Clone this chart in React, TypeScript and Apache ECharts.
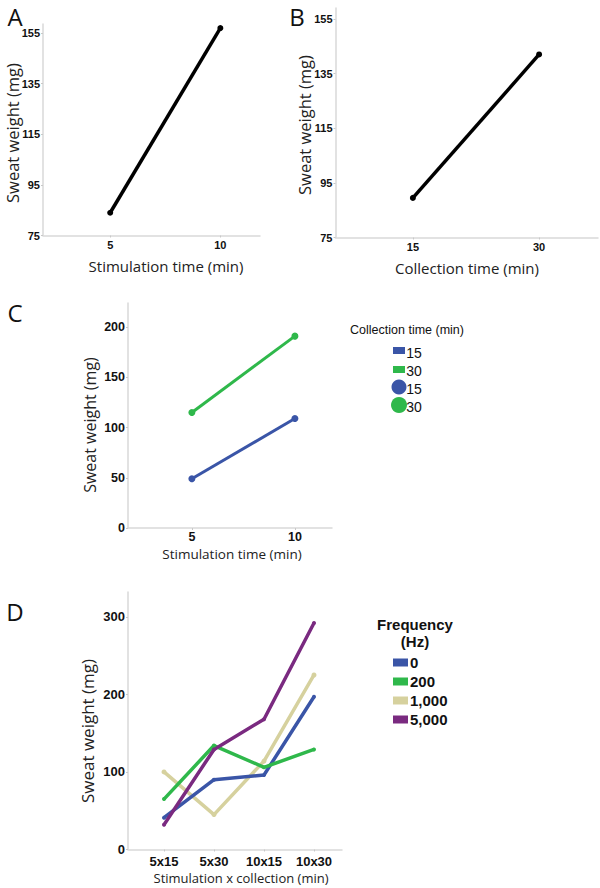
import React, { useEffect, useRef } from 'react';
import * as echarts from 'echarts';

// Panel A: stimulation time effect
const aStimTime = [5, 10];
const aWeight = [84, 157];
const aYTicks = [75, 95, 115, 135, 155];

// Panel B: collection time effect
const bCollTime = [15, 30];
const bWeight = [89.5, 142];
const bYTicks = [75, 95, 115, 135, 155];

// Panel C: interaction stimulation x collection
const cStimTime = [5, 10];
const cColl15 = [49, 109];
const cColl30 = [115, 191];
const cYTicks = [0, 50, 100, 150, 200];

// Panel D: frequency
const dCategories = ['5x15', '5x30', '10x15', '10x30'];
const dNames = ['0', '200', '1,000', '5,000'];
const dHz0 = [41, 90, 96, 197];
const dHz200 = [65, 134, 106, 129];
const dHz1000 = [100, 45, 114, 225];
const dHz5000 = [32, 129, 168, 292];
const dYTicks = [0, 100, 200, 300];

const BLUE = '#3a55a7';
const GREEN = '#2fb84b';
const TAN = '#d6d19e';
const PURPLE = '#7a2a80';
const AXIS = '#d9d9d9';
const TITLE_FONT = '"Open Sans", "DejaVu Sans", sans-serif';
const TICK_FONT = '"Liberation Sans", Arial, sans-serif';

function pairs(xs: number[], ys: number[]) {
  return xs.map((x, i) => [x, ys[i]]);
}

function axis(gridIndex: number, min: number, max: number, ticks: number[], fontSize: number, margin: number, formatter?: (v: number) => string) {
  return {
    type: 'value',
    gridIndex,
    min,
    max,
    splitLine: { show: false },
    axisLine: { show: true, onZero: false, lineStyle: { color: AXIS, width: 1.5 } },
    axisTick: { show: true, length: 2, customValues: ticks, lineStyle: { color: '#c8c8c8' } },
    axisLabel: {
      customValues: ticks,
      fontSize,
      fontWeight: 'bold',
      color: '#111',
      fontFamily: TICK_FONT,
      margin,
      formatter: formatter || ((v: number) => String(v)),
    },
  };
}

function txt(text: string, x: number, y: number, font: string, rotate = false, fill = '#222') {
  return {
    type: 'text',
    x,
    y,
    rotation: rotate ? Math.PI / 2 : 0,
    style: {
      text,
      font,
      fill,
      align: 'center',
      verticalAlign: 'middle',
      textAlign: 'center',
      textVerticalAlign: 'middle',
    },
  };
}

export default function App() {
  const ref = useRef<HTMLDivElement>(null);
  useEffect(() => {
    document.body.style.margin = '0';
    const chart = echarts.init(ref.current!, null, { renderer: 'svg' });
    const option: any = {
      animation: false,
      backgroundColor: '#ffffff',
      grid: [
        { left: 43, top: 24, width: 217, height: 211.5 },
        { left: 335.5, top: 8, width: 262.5, height: 229.5 },
        { left: 128, top: 303, width: 204, height: 225 },
        { left: 128, top: 592, width: 214, height: 257.5 },
      ],
      xAxis: [
        axis(0, 1.95, 11.8, aStimTime, 11, 4),
        axis(1, 5.8, 37, bCollTime, 11, 4),
        axis(2, 1.9, 11.8, cStimTime, 12.5, 2),
        axis(3, -0.72, 3.56, [0, 1, 2, 3], 13, 5, (v: number) => dCategories[Math.round(v)]),
      ],
      yAxis: [
        axis(0, 75, 158.6, aYTicks, 11, 3),
        axis(1, 75, 159, bYTicks, 11, 3),
        axis(2, 0, 224, cYTicks, 12.5, 3),
        axis(3, 0, 332, dYTicks, 13, 3),
      ],
      legend: {
        data: dNames,
        left: 388,
        top: 650,
        orient: 'vertical',
        icon: 'rect',
        itemWidth: 15,
        itemHeight: 8,
        itemGap: 4,
        selectedMode: false,
        textStyle: { fontSize: 15, fontWeight: 'bold', color: '#111', fontFamily: TICK_FONT, lineHeight: 15, padding: [0, 0, 0, -3] },
      },
      series: [
        {
          type: 'line', xAxisIndex: 0, yAxisIndex: 0, data: pairs(aStimTime, aWeight),
          lineStyle: { color: '#000', width: 3.5 }, itemStyle: { color: '#000' }, symbol: 'circle', symbolSize: 6,
        },
        {
          type: 'line', xAxisIndex: 1, yAxisIndex: 1, data: pairs(bCollTime, bWeight),
          lineStyle: { color: '#000', width: 3.5 }, itemStyle: { color: '#000' }, symbol: 'circle', symbolSize: 6,
        },
        {
          type: 'line', name: '15 min', xAxisIndex: 2, yAxisIndex: 2, data: pairs(cStimTime, cColl15),
          lineStyle: { color: BLUE, width: 3 }, itemStyle: { color: BLUE }, symbol: 'circle', symbolSize: 7,
        },
        {
          type: 'line', name: '30 min', xAxisIndex: 2, yAxisIndex: 2, data: pairs(cStimTime, cColl30),
          lineStyle: { color: GREEN, width: 3 }, itemStyle: { color: GREEN }, symbol: 'circle', symbolSize: 7,
        },
        {
          type: 'line', name: dNames[2], xAxisIndex: 3, yAxisIndex: 3, data: pairs([0, 1, 2, 3], dHz1000),
          lineStyle: { color: TAN, width: 3.5 }, itemStyle: { color: TAN }, symbol: 'circle', symbolSize: 5,
        },
        {
          type: 'line', name: dNames[0], xAxisIndex: 3, yAxisIndex: 3, data: pairs([0, 1, 2, 3], dHz0),
          lineStyle: { color: BLUE, width: 3.5 }, itemStyle: { color: BLUE }, symbol: 'circle', symbolSize: 4,
        },
        {
          type: 'line', name: dNames[1], xAxisIndex: 3, yAxisIndex: 3, data: pairs([0, 1, 2, 3], dHz200),
          lineStyle: { color: GREEN, width: 3.5 }, itemStyle: { color: GREEN }, symbol: 'circle', symbolSize: 4,
        },
        {
          type: 'line', name: dNames[3], xAxisIndex: 3, yAxisIndex: 3, data: pairs([0, 1, 2, 3], dHz5000),
          lineStyle: { color: PURPLE, width: 3.5 }, itemStyle: { color: PURPLE }, symbol: 'circle', symbolSize: 4,
        },
      ],
      graphic: [
        // panel letters
        txt('A', 15, 16, `24px ${TITLE_FONT}`, false, '#111'),
        txt('B', 297, 16, `24px ${TITLE_FONT}`, false, '#111'),
        txt('C', 15, 312, `24px ${TITLE_FONT}`, false, '#111'),
        txt('D', 15, 611, `24px ${TITLE_FONT}`, false, '#111'),
        // axis titles
        txt('Sweat weight (mg)', 12, 133, `16.5px ${TITLE_FONT}`, true),
        txt('Stimulation time (min)', 166, 266, `15px ${TITLE_FONT}`),
        txt('Sweat weight (mg)', 304, 125, `16.5px ${TITLE_FONT}`, true),
        txt('Collection time (min)', 467, 268, `15px ${TITLE_FONT}`),
        txt('Sweat weight (mg)', 90, 425, `16px ${TITLE_FONT}`, true),
        txt('Stimulation time (min)', 232, 554, `13.5px ${TITLE_FONT}`),
        txt('Sweat weight (mg)', 87, 731, `17px ${TITLE_FONT}`, true),
        txt('Stimulation x collection (min)', 241, 878, `13px ${TITLE_FONT}`),
        // legend C
        txt('Collection time (min)', 407, 330, `12.5px ${TICK_FONT}`, false, '#111'),
        { type: 'rect', shape: { x: 393, y: 347, width: 12, height: 7 }, style: { fill: BLUE } },
        { type: 'rect', shape: { x: 393, y: 366, width: 12, height: 7 }, style: { fill: GREEN } },
        { type: 'circle', shape: { cx: 399, cy: 387, r: 7.5 }, style: { fill: BLUE } },
        { type: 'circle', shape: { cx: 399, cy: 405, r: 8 }, style: { fill: GREEN } },
        txt('15', 414, 353, `14px ${TICK_FONT}`, false, '#111'),
        txt('30', 414, 371, `14px ${TICK_FONT}`, false, '#111'),
        txt('15', 414, 389, `14px ${TICK_FONT}`, false, '#111'),
        txt('30', 414, 407, `14px ${TICK_FONT}`, false, '#111'),
        // legend D title
        txt('Frequency', 415, 624, `bold 15px ${TICK_FONT}`, false, '#111'),
        txt('(Hz)', 415, 641, `bold 15px ${TICK_FONT}`, false, '#111'),
      ],
    };
    chart.setOption(option);
    return () => chart.dispose();
  }, []);
  return <div ref={ref} style={{ width: 600, height: 888 }} />;
}
